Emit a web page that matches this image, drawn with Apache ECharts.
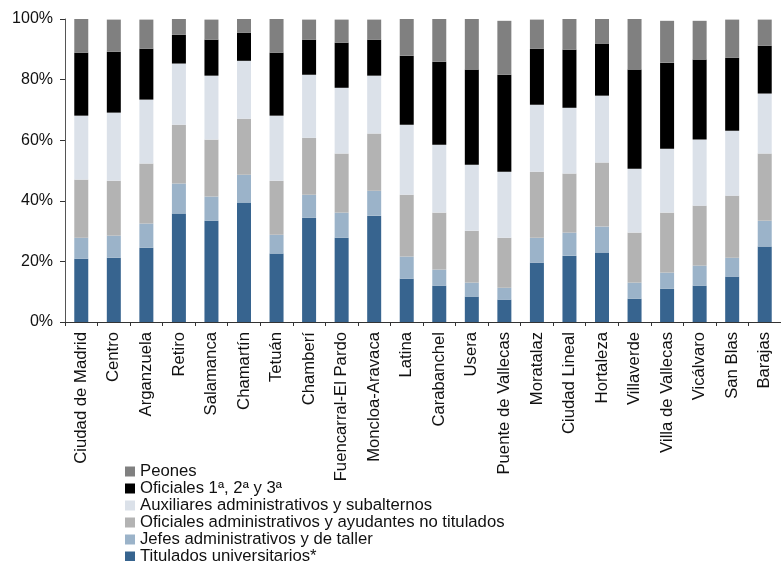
<!DOCTYPE html>
<html>
<head>
<meta charset="utf-8">
<script src="https://cdn.jsdelivr.net/npm/echarts@6/dist/echarts.min.js"></script>
<style>
html,body{margin:0;padding:0;background:#fff;}
#c{width:781px;height:561px;}
</style>
</head>
<body>
<div id="c"></div>
<script>
const categories = ["Ciudad de Madrid","Centro","Arganzuela","Retiro","Salamanca","Chamartín","Tetuán","Chamberí","Fuencarral-El Pardo","Moncloa-Aravaca","Latina","Carabanchel","Usera","Puente de Vallecas","Moratalaz","Ciudad Lineal","Hortaleza","Villaverde","Villa de Vallecas","Vicálvaro","San Blas","Barajas"];
const titulados = [20.9,21.2,24.5,35.8,33.4,39.4,22.6,34.4,27.8,35.1,14.3,12.0,8.4,7.4,19.6,21.9,22.9,7.7,11.0,12.0,15.0,24.9];
const jefes     = [6.9,7.3,8.0,9.9,8.0,9.2,6.2,7.6,8.3,8.2,7.3,5.3,4.6,3.9,8.2,7.6,8.6,5.3,5.3,6.6,6.2,8.5];
const ofAdm     = [19.2,18.1,19.8,19.4,18.8,18.5,17.8,18.8,19.5,18.9,20.4,18.8,17.1,16.5,21.8,19.5,21.1,16.5,19.8,19.8,20.5,22.2];
const auxiliares= [21.1,22.5,21.1,20.2,21.1,19.1,21.5,20.8,21.7,19.1,23.1,22.4,21.8,21.8,22.1,21.7,22.1,21.1,21.1,21.8,21.4,19.8];
const oficiales = [20.8,20.1,16.8,9.5,11.9,9.3,20.8,11.6,14.9,11.9,22.8,27.4,31.4,32.0,18.5,19.2,17.2,32.7,28.4,26.4,24.1,15.8];
const peones    = [11.1,10.6,9.6,5.3,6.6,4.6,11.2,6.6,7.6,6.6,12.2,14.2,16.8,17.8,9.6,10.2,8.2,16.8,13.8,12.8,12.6,8.6];
const seriesNames = ["Titulados universitarios*","Jefes administrativos y de taller","Oficiales administrativos y ayudantes no titulados","Auxiliares administrativos y subalternos","Oficiales 1ª, 2ª y 3ª","Peones"];
const seriesColors = ["#37648f","#9bb3c9","#b3b3b3","#dbe1e9","#000000","#808080"];
const seriesData = [titulados, jefes, ofAdm, auxiliares, oficiales, peones];
const yTicks = [0,20,40,60,80,100];

const font = "'Liberation Sans', Arial, Helvetica, sans-serif";
const chart = echarts.init(document.getElementById('c'), null, {renderer:'canvas'});
chart.setOption({
  animation:false,
  textStyle:{fontFamily:font},
  grid:{left:65, right:0, top:19, bottom:239, containLabel:false},
  legend:{
    orient:'vertical', left:125, top:463, height:140, padding:0,
    itemWidth:10, itemHeight:10, itemGap:0, icon:'rect',
    data:seriesNames.slice().reverse(),
    textStyle:{fontFamily:font, fontSize:16.7, color:'#111', lineHeight:16.6, padding:[0,0,0,0]}
  },
  xAxis:{
    type:'category', data:categories,
    axisLine:{lineStyle:{color:'#333', width:1}},
    axisTick:{show:true, length:4, lineStyle:{color:'#333'}},
    axisLabel:{rotate:90, fontSize:16.7, color:'#111', fontFamily:font, margin:10, interval:0}
  },
  yAxis:{
    type:'value', min:yTicks[0], max:yTicks[yTicks.length-1], interval:20,
    splitLine:{show:false},
    axisLine:{show:true, lineStyle:{color:'#555', width:1}},
    axisTick:{show:true, length:5, lineStyle:{color:'#333'}},
    axisLabel:{formatter:'{value}%', fontSize:16, color:'#111', fontFamily:font, margin:12}
  },
  series:seriesNames.map((n,i)=>({
    name:n, type:'bar', stack:'total', barWidth:14,
    itemStyle:{color:seriesColors[i]},
    data:seriesData[i]
  }))
});
</script>
</body>
</html>
